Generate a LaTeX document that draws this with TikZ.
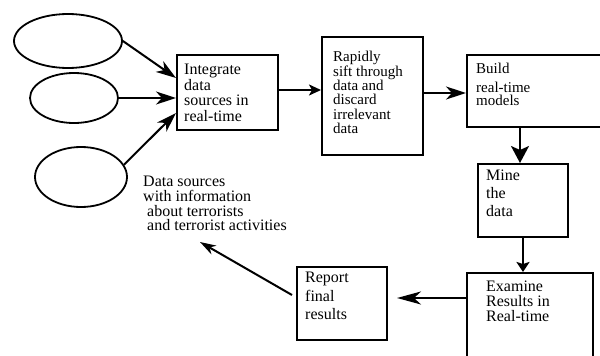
\documentclass[tikz,border=0pt]{standalone}
\usepackage{fontspec}
\setmainfont{Liberation Serif}
\usetikzlibrary{arrows.meta,shapes.geometric,calc}
\begin{document}
\begin{tikzpicture}[x=1pt,y=-1pt,
  ell/.style={ellipse,draw,line width=1.8pt,inner sep=0pt},
  stepbox/.style={rectangle,draw,line width=2pt,inner sep=0pt},
  lbl/.style={anchor=north west,inner sep=0pt,align=left},
  conn/.style={line width=2pt},
  tipA/.style={-{Stealth[length=20pt,width=13pt,inset=6pt]}},
  tipB/.style={-{Stealth[length=12pt,width=11pt,inset=3pt]}},
  tipC/.style={-{Stealth[length=20pt,width=13pt,inset=6pt]}},
  tipD/.style={-{Stealth[length=17pt,width=18pt,inset=4pt]}},
  tipE/.style={-{Stealth[length=10pt,width=13pt,inset=2pt]}},
  tipF/.style={-{Stealth[length=24pt,width=13pt,inset=7pt]}},
  tipG/.style={-{Stealth[length=16pt,width=10pt,inset=5pt]}}]
\clip (0,0) rectangle (600,356);
\fill[white] (0,0) rectangle (600,356);

% source ellipses
\node[ell,minimum width=108pt,minimum height=54pt] (e1) at (68,41) {};
\node[ell,minimum width=88pt,minimum height=50pt] (e2) at (74,98) {};
\node[ell,minimum width=92pt,minimum height=60pt] (e3) at (81,177) {};

% boxes
\node[stepbox,minimum width=101pt,minimum height=75pt] (int) at (227.5,92.5) {};
\node[stepbox,minimum width=101pt,minimum height=118pt] (rap) at (372.5,96) {};
\node[stepbox,minimum width=143pt,minimum height=72pt] (bld) at (538.5,91) {};
\node[stepbox,minimum width=90pt,minimum height=73pt] (mine) at (523,200.5) {};
\node[stepbox,minimum width=126pt,minimum height=97pt] (exa) at (530,321.5) {};
\node[stepbox,minimum width=90pt,minimum height=73pt] (rep) at (342,303.5) {};

% texts
\node[lbl,font={\fontsize{16}{15.5}\selectfont}] (tint) at (184,64)
  {Integrate\\data\\sources in\\real-time};
\node[lbl,font={\fontsize{15}{14.4}\selectfont}] (trap) at (333,51)
  {Rapidly\\sift through\\data and\\discard\\irrelevant\\data};
\node[lbl,font={\fontsize{15}{13.8}\selectfont}] (tbld) at (476,63)
  {Build\\[4.6pt]real-time\\models};
\node[lbl,font={\fontsize{16}{18}\selectfont}] (tmine) at (486,170)
  {Mine\\the\\data};
\node[lbl,font={\fontsize{16}{15}\selectfont}] (texa) at (486,281)
  {Examine\\Results in\\Real-time};
\node[lbl,font={\fontsize{16}{18.5}\selectfont}] (trep) at (305,272)
  {Report\\final\\results};
\node[lbl,font={\fontsize{16}{14.7}\selectfont}] (tdata) at (143,176)
  {Data sources\\with information\\\hspace*{4pt}about terrorists\\\hspace*{4pt}and terrorist activities};

% free ends
\coordinate (repin) at (397,298);
\coordinate (datain) at (200,242);

% connectors
\draw[conn,tipA] (e1.east) -- ([yshift=14.5pt]int.west);
\draw[conn,tipA] (e2.east) -- ([yshift=-5.5pt]int.west);
\draw[conn,tipA] (e3.16) -- ([yshift=-20.5pt]int.west);
\draw[conn,tipB] ([yshift=2.5pt]int.east) -- ([yshift=2.5pt]int.east -| rap.west);
\draw[conn,tipC] ([yshift=3pt]rap.east) -- ([yshift=3pt]rap.east -| bld.west);
\draw[conn,tipD] ([xshift=-3pt]mine.north |- bld.south) -- ([xshift=-3pt]mine.north);
\draw[conn,tipE] (mine.south) -- (mine.south |- exa.north);
\draw[conn,tipF] ([yshift=23.5pt]exa.west) -- (repin);
\draw[conn,tipG] ([xshift=-4pt,yshift=8.5pt]rep.west) -- (datain);
\end{tikzpicture}
\end{document}
